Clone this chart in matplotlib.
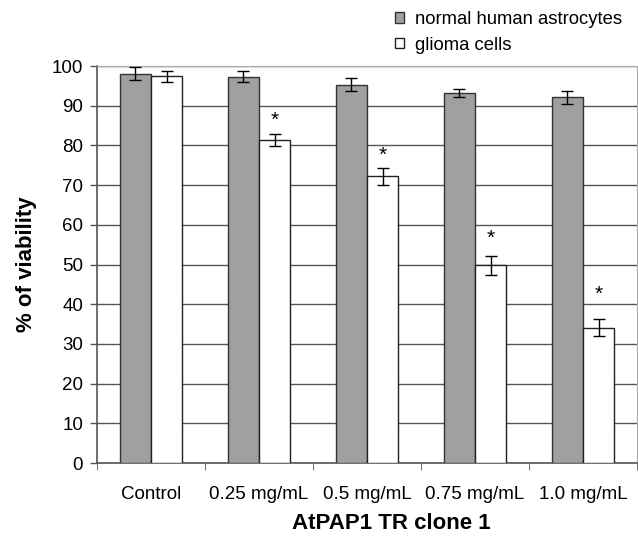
import matplotlib.pyplot as plt
import numpy as np

plt.rcParams['font.family'] = ['Liberation Sans', 'DejaVu Sans']

# data
categories = ['Control', '0.25 mg/mL', '0.5 mg/mL', '0.75 mg/mL', '1.0 mg/mL']
astro = [98.1, 97.3, 95.3, 93.2, 92.1]
astro_err = [1.6, 1.45, 1.65, 1.1, 1.6]
glioma = [97.4, 81.4, 72.2, 49.8, 34.1]
glioma_err = [1.45, 1.45, 2.1, 2.45, 2.05]
star_y = [None, 86.4, 77.5, 56.5, 42.6]

W, H = 638, 553
fig = plt.figure(figsize=(W / 100, H / 100), dpi=100)
ax = fig.add_axes([97 / W, 90 / H, 540 / W, 397 / H])

x = np.arange(len(categories))
w = 0.29
ax.bar(x - w / 2, astro, w, color='#a0a0a0', edgecolor='#333333', linewidth=1,
       yerr=astro_err, capsize=4, error_kw=dict(elinewidth=1, capthick=1, ecolor='black'),
       label='normal human astrocytes', zorder=3)
ax.bar(x + w / 2, glioma, w, color='white', edgecolor='#222222', linewidth=1,
       yerr=glioma_err, capsize=4, error_kw=dict(elinewidth=1, capthick=1, ecolor='black'),
       label='glioma cells', zorder=3)

# significance marks
for xi, sy in zip(x, star_y):
    if sy is not None:
        ax.text(xi + w / 2, sy, '*', ha='center', va='center', fontsize=15)

ax.set_ylim(0, 100)
ax.set_xlim(-0.5, len(categories) - 0.5)
ax.set_yticks(range(0, 101, 10))
ax.yaxis.grid(True, color='#555555', linewidth=1, zorder=0)
ax.set_axisbelow(True)

ax.set_xticks(x)
ax.set_xticklabels(categories, fontsize=13.5)
ax.tick_params(axis='x', length=0, pad=16.5)
ax.set_xticks(np.arange(-0.5, len(categories)), minor=True)
ax.tick_params(axis='x', which='minor', length=5, color='#555555')
ax.tick_params(axis='y', labelsize=13.5, length=5, color='#555555', width=1, pad=5)

for s in ['top', 'right']:
    ax.spines[s].set_color('#aaaaaa')
for s in ['left', 'bottom']:
    ax.spines[s].set_color('#555555')
    ax.spines[s].set_linewidth(1.2)

ax.set_ylabel('% of viability', fontsize=16, fontweight='bold')
ax.yaxis.set_label_coords(-0.112, 0.5)
ax.set_xlabel('AtPAP1 TR clone 1', fontsize=16, fontweight='bold')
ax.xaxis.set_label_coords(0.545, -0.127)

fig.legend(loc='upper left', bbox_to_anchor=(395 / W, 1 - 11 / H), frameon=False, fontsize=13.3,
           handlelength=0.47, handleheight=0.47, handletextpad=0.61, labelspacing=0.48,
           borderpad=0, borderaxespad=0)

plt.savefig('out.png', dpi=100)
